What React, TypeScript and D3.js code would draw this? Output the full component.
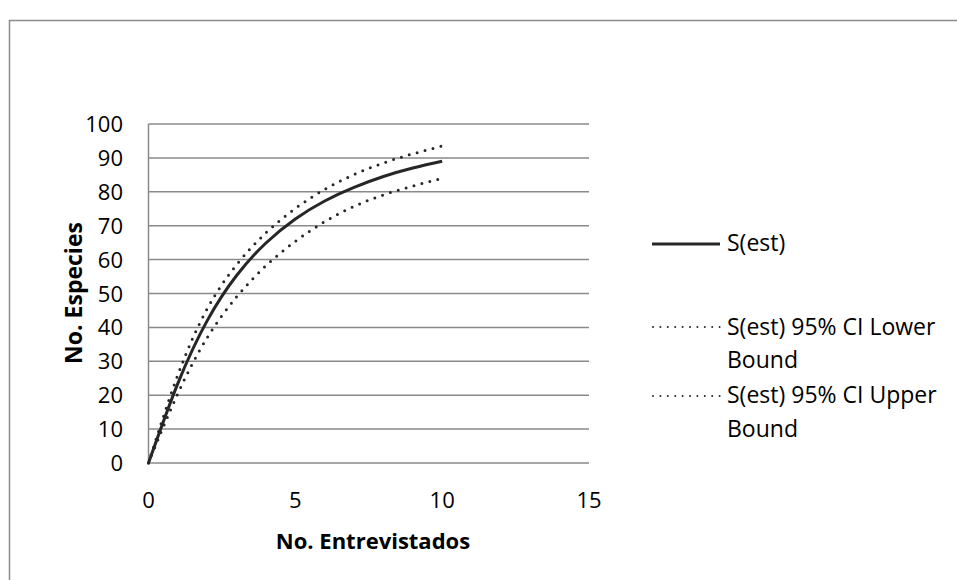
import React from "react";
import * as d3 from "d3";

const xVals = [0, 1, 2, 3, 4, 5, 6, 7, 8, 9, 10];
const sEst = [0, 23.5, 42, 55.3, 64.9, 72, 77.3, 81.3, 84.5, 87, 89];
const lowerCI = [0, 20.5, 37, 49, 58.2, 65.4, 71.2, 75.7, 79.1, 81.7, 84];
const upperCI = [0, 26, 45.5, 58.5, 67.9, 75.1, 80.7, 85.1, 88.5, 91.2, 93.5];
const xTicks = [0, 5, 10, 15];
const yTicks = [0, 10, 20, 30, 40, 50, 60, 70, 80, 90, 100];
const legendLines = [["S(est)"], ["S(est) 95% CI Lower", "Bound"], ["S(est) 95% CI Upper", "Bound"]];

const FONT = "'Open Sans', 'Noto Sans', sans-serif";

export default function App() {
  const W = 957, H = 580;
  const x = d3.scaleLinear().domain([0, 15]).range([148.5, 589]);
  const y = d3.scaleLinear().domain([0, 100]).range([463, 124]);
  const line = d3
    .line<number>()
    .x((_, i) => x(xVals[i]))
    .y((d) => y(d))
    .curve(d3.curveNatural);
  const ink = "#262626";
  const grid = "#8a8a8a";

  return (
    <svg width={W} height={H} style={{ position: "absolute", left: 0, top: 0 }} fontFamily={FONT}>
      <rect x={0} y={0} width={W} height={H} fill="#fff" />
      <rect x={9.5} y={20.5} width={W + 20} height={H + 20} fill="none" stroke="#8c8c8c" strokeWidth={1.5} />
      {yTicks.map((t) => (
        <g key={t}>
          <line x1={x(0)} x2={x(15)} y1={y(t)} y2={y(t)} stroke={grid} strokeWidth={1.5} />
          <text x={123} y={y(t) + 8} textAnchor="end" fontSize={22} fill="#000">
            {t}
          </text>
        </g>
      ))}
      <line x1={x(0)} x2={x(0)} y1={y(100)} y2={y(0)} stroke={grid} strokeWidth={1.5} />
      {xTicks.map((t) => (
        <text key={t} x={x(t)} y={508} textAnchor="middle" fontSize={22} fill="#000">
          {t}
        </text>
      ))}
      <text x={373} y={549} textAnchor="middle" fontSize={22} fontWeight="bold" fill="#000">
        No. Entrevistados
      </text>
      <text
        transform={`translate(82, 293) rotate(-90)`}
        textAnchor="middle"
        fontSize={23}
        fontWeight="bold"
        fill="#000"
      >
        No. Especies
      </text>

      <path d={line(lowerCI) || ""} fill="none" stroke={ink} strokeWidth={3} strokeDasharray="0 8.2" strokeLinecap="round" />
      <path d={line(upperCI) || ""} fill="none" stroke={ink} strokeWidth={3} strokeDasharray="0 8.2" strokeLinecap="round" />
      <path d={line(sEst) || ""} fill="none" stroke={ink} strokeWidth={3} />

      {/* Legend */}
      <line x1={652} x2={720} y1={244} y2={244} stroke={ink} strokeWidth={3} />
      <text x={727} y={251} fontSize={23} fill="#000">{legendLines[0][0]}</text>

      <line x1={653} x2={720} y1={327} y2={327} stroke={ink} strokeWidth={2} strokeDasharray="0 7.4" strokeLinecap="round" />
      <text x={727} y={335} fontSize={23} fill="#000">
        <tspan x={727}>{legendLines[1][0]}</tspan>
        <tspan x={727} dy={33}>{legendLines[1][1]}</tspan>
      </text>

      <line x1={653} x2={720} y1={396} y2={396} stroke={ink} strokeWidth={2} strokeDasharray="0 7.4" strokeLinecap="round" />
      <text x={727} y={403} fontSize={23} fill="#000">
        <tspan x={727}>{legendLines[2][0]}</tspan>
        <tspan x={727} dy={34}>{legendLines[2][1]}</tspan>
      </text>
    </svg>
  );
}
